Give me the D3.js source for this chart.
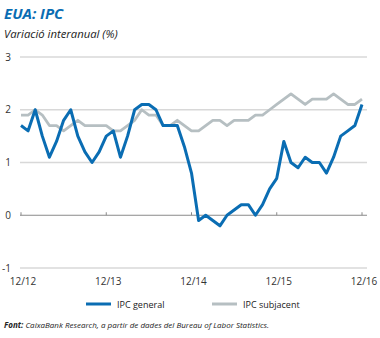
<!DOCTYPE html>
<html>
<head>
<meta charset="utf-8">
<script src="https://cdn.jsdelivr.net/npm/d3@7"></script>
<style>
  body { margin: 0; background: #fff; }
  svg { font-family: "Open Sans", "Noto Sans", sans-serif; }
</style>
</head>
<body>
<div id="chart-area"></div>
<script>
// months from 12/2012 to 12/2016
var tickLabels = ["12/12", "12/13", "12/14", "12/15", "12/16"];
var yTicks = [-1, 0, 1, 2, 3];
var ipcGeneral = [1.7, 1.6, 2.0, 1.5, 1.1, 1.4, 1.8, 2.0, 1.5, 1.2, 1.0, 1.2,
                  1.5, 1.6, 1.1, 1.5, 2.0, 2.1, 2.1, 2.0, 1.7, 1.7, 1.7, 1.3,
                  0.8, -0.1, 0.0, -0.1, -0.2, 0.0, 0.1, 0.2, 0.2, 0.0, 0.2, 0.5,
                  0.7, 1.4, 1.0, 0.9, 1.1, 1.0, 1.0, 0.8, 1.1, 1.5, 1.6, 1.7, 2.1];
var ipcSubjacent = [1.9, 1.9, 2.0, 1.9, 1.7, 1.7, 1.6, 1.7, 1.8, 1.7, 1.7, 1.7,
                    1.7, 1.6, 1.6, 1.7, 1.8, 2.0, 1.9, 1.9, 1.7, 1.7, 1.8, 1.7,
                    1.6, 1.6, 1.7, 1.8, 1.8, 1.7, 1.8, 1.8, 1.8, 1.9, 1.9, 2.0,
                    2.1, 2.2, 2.3, 2.2, 2.1, 2.2, 2.2, 2.2, 2.3, 2.2, 2.1, 2.1, 2.2];

var blue = "#0a6db3";
var grey = "#b6bfc2";

var svg = d3.select("#chart-area").append("svg")
    .attr("width", 380)
    .attr("height", 338);

var x = d3.scaleLinear().domain([0, 48]).range([21, 362]);
var y = d3.scaleLinear().domain([-1, 3]).range([268, 57]);

// title
svg.append("text")
    .attr("x", 4).attr("y", 19)
    .attr("font-size", 15).attr("font-weight", "bold").attr("font-style", "italic")
    .attr("fill", blue)
    .text("EUA: IPC");
svg.append("text")
    .attr("x", 4).attr("y", 38)
    .attr("font-size", 11.3).attr("font-style", "italic")
    .attr("fill", "#222")
    .text("Variació interanual (%)");

// grid lines
svg.selectAll("line.grid").data(yTicks.filter(function(d){ return d != 0; }))
  .enter().append("line")
    .attr("class", "grid")
    .attr("x1", 20).attr("x2", 367)
    .attr("y1", function(d){ return y(d); })
    .attr("y2", function(d){ return y(d); })
    .attr("stroke", "#d8d8d8")
    .attr("stroke-width", 1.3);

// zero line with ticks
svg.append("line")
    .attr("x1", 20).attr("x2", 367)
    .attr("y1", y(0)).attr("y2", y(0))
    .attr("stroke", "#8a8a8a").attr("stroke-width", 1.2);
svg.selectAll("line.tick").data(tickLabels)
  .enter().append("line")
    .attr("class", "tick")
    .attr("x1", function(d, i){ return x(i * 12); })
    .attr("x2", function(d, i){ return x(i * 12); })
    .attr("y1", y(0) - 3).attr("y2", y(0))
    .attr("stroke", "#8a8a8a").attr("stroke-width", 1);

// y labels
svg.selectAll("text.ylab").data(yTicks)
  .enter().append("text")
    .attr("class", "ylab")
    .attr("x", 11)
    .attr("y", function(d){ return y(d) + 3.5; })
    .attr("text-anchor", "end")
    .attr("font-size", 10)
    .attr("fill", "#333")
    .text(function(d){ return d; });

// x labels
svg.selectAll("text.xlab").data(tickLabels)
  .enter().append("text")
    .attr("class", "xlab")
    .attr("x", function(d, i){ return x(i * 12) + 2; })
    .attr("y", 285)
    .attr("text-anchor", "middle")
    .attr("font-size", 10)
    .attr("fill", "#333")
    .text(function(d){ return d; });

var line = d3.line()
    .x(function(d, i){ return x(i); })
    .y(function(d){ return y(d); });

svg.append("path").datum(ipcSubjacent)
    .attr("d", line)
    .attr("fill", "none")
    .attr("stroke", grey)
    .attr("stroke-width", 2.8)
    .attr("stroke-linejoin", "round");

svg.append("path").datum(ipcGeneral)
    .attr("d", line)
    .attr("fill", "none")
    .attr("stroke", blue)
    .attr("stroke-width", 3)
    .attr("stroke-linejoin", "round");

// legend
var legend = [{name: "IPC general", color: blue, x: 86},
              {name: "IPC subjacent", color: grey, x: 212}];
legend.forEach(function(l){
    svg.append("line")
        .attr("x1", l.x).attr("x2", l.x + 25)
        .attr("y1", 304).attr("y2", 304)
        .attr("stroke", l.color).attr("stroke-width", 3);
    svg.append("text")
        .attr("x", l.x + 31).attr("y", 307.5)
        .attr("font-size", 9)
        .attr("fill", "#222")
        .text(l.name);
});

// source
var src = svg.append("text")
    .attr("x", 4).attr("y", 328)
    .attr("font-size", 8).attr("font-style", "italic")
    .attr("fill", "#222");
src.append("tspan").attr("font-weight", "bold").text("Font: ");
src.append("tspan").text("CaixaBank Research, a partir de dades del Bureau of Labor Statistics.");
</script>
</body>
</html>
